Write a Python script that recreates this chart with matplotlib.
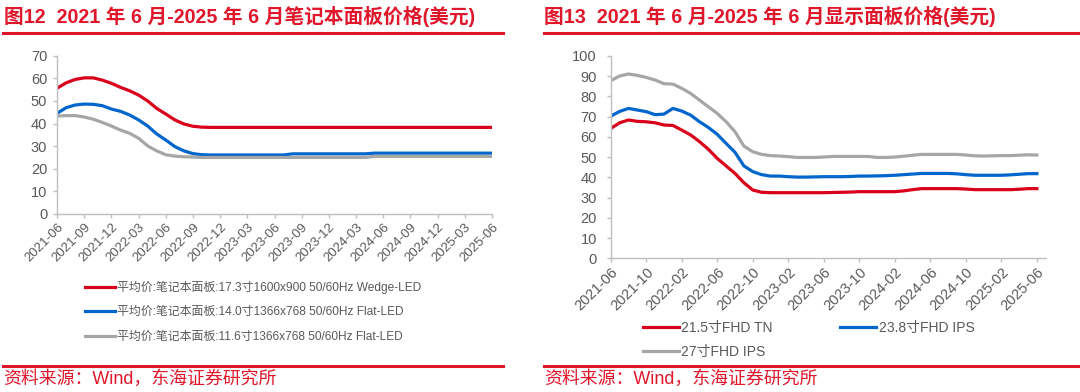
import numpy as np
import pandas as pd
import matplotlib
matplotlib.use('Agg')
import matplotlib.pyplot as plt

plt.rcParams['font.family'] = ['Liberation Sans', 'Noto Sans CJK SC']

# ---- data: monthly, 2021-06 .. 2025-06 ----
months = pd.date_range('2021-06-01', '2025-06-01', freq='MS')
month_labels = [d.strftime('%Y-%m') for d in months]

nb_labels = ['平均价:笔记本面板:17.3寸1600x900 50/60Hz Wedge-LED',
             '平均价:笔记本面板:14.0寸1366x768 50/60Hz Flat-LED',
             '平均价:笔记本面板:11.6寸1366x768 50/60Hz Flat-LED']
nb_173 = [55.6, 58.0, 59.5, 60.2, 60.2, 59.2, 57.8, 56.0, 54.5, 52.6, 50.0, 46.7, 44.2,
          41.6, 39.8, 38.8, 38.4, 38.3, 38.3, 38.3, 38.3, 38.3, 38.3, 38.3, 38.3, 38.3,
          38.3, 38.3, 38.3, 38.3, 38.3, 38.3, 38.3, 38.3, 38.3, 38.3, 38.3, 38.3, 38.3,
          38.3, 38.3, 38.3, 38.3, 38.3, 38.3, 38.3, 38.3, 38.3, 38.3]
nb_140 = [44.5, 47.0, 48.2, 48.6, 48.5, 47.9, 46.4, 45.4, 43.8, 41.6, 38.9, 35.4, 32.7,
          29.8, 27.9, 26.7, 26.2, 26.1, 26.1, 26.1, 26.1, 26.1, 26.1, 26.1, 26.1, 26.1,
          26.6, 26.6, 26.6, 26.6, 26.6, 26.6, 26.6, 26.6, 26.6, 26.9, 26.9, 26.9, 26.9,
          26.9, 26.9, 26.9, 26.9, 26.9, 26.9, 26.9, 26.9, 26.9, 26.9]
nb_116 = [43.3, 43.5, 43.5, 42.9, 41.9, 40.5, 38.9, 37.1, 35.7, 33.5, 30.1, 27.9, 26.2,
          25.6, 25.3, 25.2, 25.0, 25.0, 25.0, 25.0, 25.0, 25.0, 25.0, 25.0, 25.0, 25.0,
          25.0, 25.0, 25.0, 25.0, 25.0, 25.0, 25.0, 25.0, 25.0, 25.5, 25.5, 25.5, 25.5,
          25.5, 25.5, 25.5, 25.5, 25.5, 25.5, 25.5, 25.5, 25.5, 25.5]

mon_labels = ['21.5寸FHD TN', '23.8寸FHD IPS', '27寸FHD IPS']
mon_215 = [64.1, 66.9, 68.3, 67.6, 67.4, 66.9, 65.8, 65.6, 63.3, 60.9, 57.6, 53.8, 49.3,
           45.6, 41.9, 37.3, 33.7, 32.6, 32.4, 32.4, 32.4, 32.4, 32.4, 32.4, 32.4, 32.5,
           32.6, 32.7, 32.9, 32.9, 32.9, 32.9, 32.9, 33.3, 33.9, 34.4, 34.4, 34.4, 34.4,
           34.4, 34.2, 33.9, 33.9, 33.9, 33.9, 33.9, 34.1, 34.4, 34.4]
mon_238 = [70.2, 72.5, 74.0, 73.2, 72.4, 70.9, 71.2, 74.0, 72.7, 70.7, 67.4, 64.6, 61.2,
           56.7, 52.3, 45.6, 42.8, 41.3, 40.6, 40.6, 40.3, 40.1, 40.1, 40.2, 40.3, 40.3,
           40.3, 40.4, 40.6, 40.6, 40.7, 40.8, 41.0, 41.3, 41.6, 41.9, 41.9, 41.9, 41.9,
           41.7, 41.3, 41.0, 41.0, 41.0, 41.0, 41.2, 41.5, 41.8, 41.8]
mon_27 = [87.7, 90.0, 91.0, 90.3, 89.3, 88.0, 86.2, 86.0, 83.9, 81.4, 78.1, 74.8, 71.5,
          67.4, 62.5, 55.4, 52.6, 51.3, 50.7, 50.5, 50.2, 49.8, 49.8, 49.8, 50.0, 50.3,
          50.3, 50.3, 50.3, 50.3, 49.8, 49.8, 50.0, 50.4, 50.9, 51.3, 51.3, 51.3, 51.3,
          51.3, 51.0, 50.6, 50.5, 50.6, 50.7, 50.7, 50.9, 51.1, 51.0]

RED = '#D9001B'
BLUE = '#0066CC'
GRAY = '#A6A6A6'
TXT = '#595959'
AX = '#BFBFBF'
TITLE_RED = '#E0162B'

x = np.arange(len(months))

fig = plt.figure(figsize=(10.8, 3.92), dpi=100)


def style_axis(ax, step, ymax, ystep, xsize, ypad):
    ax.set_ylim(0, ymax)
    ax.set_yticks(np.arange(0, ymax + 1, ystep))
    ticks = x[::step]
    ax.set_xticks(ticks)
    ax.set_xticklabels([month_labels[i] for i in ticks], rotation=45,
                       ha='right', rotation_mode='anchor')
    for s in ['top', 'right']:
        ax.spines[s].set_visible(False)
    for s in ['left', 'bottom']:
        ax.spines[s].set_color(AX)
        ax.spines[s].set_linewidth(1.0)
    ax.tick_params(axis='both', colors=AX, labelcolor=TXT, length=3, width=1.0)
    ax.tick_params(axis='y', labelsize=10.5, pad=ypad)
    ax.tick_params(axis='x', labelsize=xsize, pad=2)


# ---- left: notebook panels ----
ax1 = fig.add_axes([0.0528, 0.4541, 0.4028, 0.4038])
ax1.plot(x, nb_173, color=RED, lw=2.3, label=nb_labels[0])
ax1.plot(x, nb_140, color=BLUE, lw=2.3, label=nb_labels[1])
ax1.plot(x, nb_116, color=GRAY, lw=2.3, label=nb_labels[2])
ax1.set_xlim(0, 48)
style_axis(ax1, 3, 70, 10, 9.5, 4)
fig.legend(*ax1.get_legend_handles_labels(), loc='upper left',
           bbox_to_anchor=(0.079, 0.284), frameon=False, fontsize=8.6,
           handlelength=2.5, handletextpad=0.15, labelspacing=1.05,
           labelcolor=TXT, borderaxespad=0, borderpad=0)

# ---- right: monitor panels ----
ax2 = fig.add_axes([0.5655, 0.341, 0.4028, 0.5168])
l1, = ax2.plot(x, mon_215, color=RED, lw=2.3, label=mon_labels[0])
l2, = ax2.plot(x, mon_238, color=BLUE, lw=2.3, label=mon_labels[1])
l3, = ax2.plot(x, mon_27, color=GRAY, lw=2.3, label=mon_labels[2])
ax2.set_xlim(0, 49)
style_axis(ax2, 4, 100, 10, 10.5, 7)
fig.legend([l1, l3, l2], [mon_labels[0], mon_labels[2], mon_labels[1]],
           ncol=2, loc='upper left', bbox_to_anchor=(0.595, 0.182),
           frameon=False, fontsize=10, handlelength=2.6, handletextpad=0.15,
           labelspacing=0.75, columnspacing=4.9, labelcolor=TXT,
           borderaxespad=0, borderpad=0)

# ---- titles, rules, source ----
fig.text(0.004, 0.958, '图12  2021 年 6 月-2025 年 6 月笔记本面板价格(美元)',
         color=TITLE_RED, fontsize=14.2, fontweight='bold', va='center', ha='left')
fig.text(0.504, 0.958, '图13  2021 年 6 月-2025 年 6 月显示面板价格(美元)',
         color=TITLE_RED, fontsize=14.2, fontweight='bold', va='center', ha='left')
for x0, x1 in [(3, 503), (544, 1078)]:
    fig.add_artist(plt.Line2D([x0 / 1080, x1 / 1080], [1 - 32.5 / 392] * 2,
                              color=TITLE_RED, lw=2.2))
    fig.add_artist(plt.Line2D([x0 / 1080, x1 / 1080], [1 - 365.5 / 392] * 2,
                              color=TITLE_RED, lw=2.2))
fig.text(0.003, 0.034, '资料来源：Wind，东海证券研究所', color=TITLE_RED,
         fontsize=12.9, va='center', ha='left')
fig.text(0.504, 0.034, '资料来源：Wind，东海证券研究所', color=TITLE_RED,
         fontsize=12.9, va='center', ha='left')

fig.savefig('out.png', dpi=100)
